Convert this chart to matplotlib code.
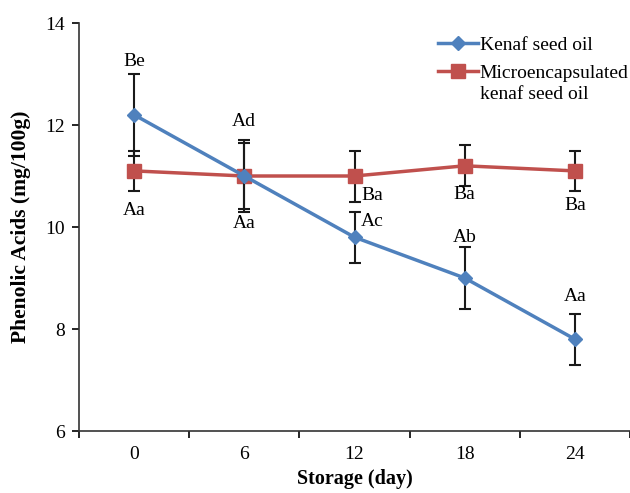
import matplotlib
matplotlib.use("Agg")
import matplotlib.pyplot as plt
from matplotlib.lines import Line2D
import numpy as np

days = ["0", "6", "12", "18", "24"]
kenaf = [12.2, 11.0, 9.8, 9.0, 7.8]
kenaf_err = [0.8, 0.7, 0.5, 0.6, 0.5]
micro = [11.1, 11.0, 11.0, 11.2, 11.1]
micro_err = [0.4, 0.65, 0.5, 0.4, 0.4]
kenaf_labels = ["Be", "Ad", "Ac", "Ab", "Aa"]
micro_labels = ["Aa", "Aa", "Ba", "Ba", "Ba"]

plt.rcParams['font.family'] = ['Liberation Serif', 'DejaVu Serif']

fig = plt.figure(figsize=(6.3, 4.93), dpi=100)
ax = fig.add_axes([79/630, 62/493, 551/630, 408/493])

x = np.arange(len(days))
blue = "#4F81BD"
red = "#C0504D"

ax.errorbar(x, micro, yerr=micro_err, color=red, lw=2.5, marker='s', ms=10,
            ecolor='#1a1a1a', elinewidth=1.5, capsize=4, capthick=1.5, zorder=3)
ax.errorbar(x, kenaf, yerr=kenaf_err, color=blue, lw=2.5, marker='D', ms=7,
            ecolor='#1a1a1a', elinewidth=1.5, capsize=4, capthick=1.5, zorder=4)

fs = 14
# label offsets in pixels relative to the data point: (dx, dy, ha)
k_off = [(0, 53, 'center'), (0, 55, 'center'), (6, 16, 'left'),
         (0, 41, 'center'), (0, 43, 'center')]
m_off = [(0, -40, 'center'), (0, -48, 'center'), (7, -19, 'left'),
         (0, -29, 'center'), (0, -35, 'center')]
for i, (lab, (dx, dy, ha)) in enumerate(zip(kenaf_labels, k_off)):
    ax.annotate(lab, (x[i], kenaf[i]), xytext=(dx, dy), textcoords='offset pixels',
                ha=ha, va='center', fontsize=fs)
for i, (lab, (dx, dy, ha)) in enumerate(zip(micro_labels, m_off)):
    ax.annotate(lab, (x[i], micro[i]), xytext=(dx, dy), textcoords='offset pixels',
                ha=ha, va='center', fontsize=fs)

ax.set_xlim(-0.5, -0.5 + 551/111)
ax.set_ylim(6, 14)
ax.set_yticks([6, 8, 10, 12, 14])
ax.set_xticks(x)
ax.set_xticklabels(days, fontsize=fs)
ax.set_xticks(np.arange(-0.5, 5, 1), minor=True)
ax.tick_params(axis='x', which='major', length=0, pad=11)
ax.tick_params(axis='x', which='minor', length=5, width=1.2, direction='out')
ax.tick_params(axis='y', labelsize=fs, length=5, width=1.2, direction='out', pad=5)
for s in ['top', 'right']:
    ax.spines[s].set_visible(False)
for s in ['left', 'bottom']:
    ax.spines[s].set_linewidth(1.2)
    ax.spines[s].set_color('#333333')

ax.set_ylabel("Phenolic Acids (mg/100g)", fontsize=15.5, fontweight='bold', labelpad=10)
ax.set_xlabel("Storage (day)", fontsize=14.5, fontweight='bold', labelpad=4)

handles = [Line2D([], [], color=blue, lw=2.5, marker='D', ms=7),
           Line2D([], [], color=red, lw=2.5, marker='s', ms=10)]
labels = ["Kenaf seed oil", "Microencapsulated"]
leg = fig.legend(handles, labels, loc='upper left', bbox_to_anchor=(438/630, 1 - 36/493),
                 frameon=False, fontsize=fs, handlelength=2.05, handletextpad=0.1,
                 borderaxespad=0.0, borderpad=0.0, labelspacing=0.55)

fig.canvas.draw()
bb = leg.get_texts()[1].get_window_extent().transformed(fig.transFigure.inverted())
fig.text(bb.x0, bb.y0 - 4/493, "kenaf seed oil", ha='left', va='top', fontsize=fs)

fig.savefig("out.png", dpi=100)
